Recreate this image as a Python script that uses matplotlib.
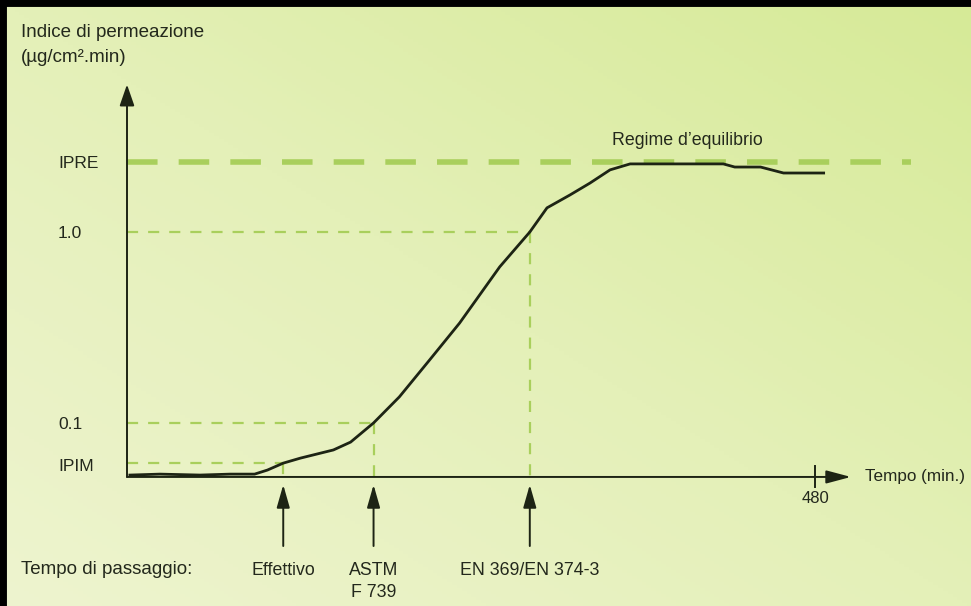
import numpy as np
import matplotlib
matplotlib.use("Agg")
import matplotlib.pyplot as plt
from matplotlib.colors import LinearSegmentedColormap

plt.rcParams['font.family'] = ['Liberation Sans', 'DejaVu Sans']

# Permeation curve (time in minutes, permeation index on a schematic scale)
time_min = [2, 23, 51, 72, 89, 98, 109, 121, 144, 156, 172, 190, 211, 232,
            260, 281, 293, 309, 323, 337, 351, 386, 416, 424, 442, 458, 486]
perm_index = [0.3, 0.6, 0.3, 0.6, 0.6, 1.9, 4.1, 5.7, 8.3, 10.8, 16.9, 25.2,
              36.9, 48.7, 66.6, 77.7, 85.4, 89.5, 93.3, 97.5, 99.4, 99.4,
              99.4, 98.4, 98.4, 96.5, 96.5]

# Reference levels on the index axis
level_labels = ["IPIM", "0.1", "1.0", "IPRE"]
level_values = [4.1, 16.9, 77.7, 100.0]

# Breakthrough times where the curve crosses each threshold
bt_labels = ["Effettivo", "ASTM\nF 739", "EN 369/EN 374-3"]
bt_times = [109, 172, 281]
bt_levels = [4.1, 16.9, 77.7]

x_tick = 480

dash_green = "#a9cf5c"
ink = "#1d2414"
text_col = "#23281c"

fig = plt.figure(figsize=(9.71, 6.06), dpi=100)
ax = fig.add_axes([0, 0, 1, 1])
xmin, xmax = -88.6, 588.8
ymin, ymax = -41.4, 151.6
ax.set_xlim(xmin, xmax)
ax.set_ylim(ymin, ymax)
ax.axis("off")

# paper background: greener at the top right, paler at the bottom left
cmap = LinearSegmentedColormap.from_list("paper", ["#eef4cf", "#e4f0b8", "#d6ea97"])
gx, gy = np.meshgrid(np.linspace(0, 1, 200), np.linspace(0, 1, 200))
grad = 0.5 * gx + 0.5 * gy
ax.imshow(grad, extent=[xmin, xmax, ymin, ymax], origin="lower", cmap=cmap,
          aspect="auto", zorder=0)

# black frame along the top and left edges
ax.plot([xmin, xmin, xmax], [ymin, ymax, ymax], color="black", lw=10,
        solid_capstyle="butt", zorder=10)

# axes with arrowheads
ax.annotate("", xy=(0, 124.7), xytext=(0, -0.3),
            arrowprops=dict(arrowstyle="-|>,head_length=1.3,head_width=0.45",
                            color=ink, lw=1.4, shrinkA=0, shrinkB=0), zorder=5)
ax.annotate("", xy=(505, -0.3), xytext=(0, -0.3),
            arrowprops=dict(arrowstyle="-|>,head_length=1.5,head_width=0.4",
                            color=ink, lw=1.4, shrinkA=0, shrinkB=0), zorder=5)
ax.plot([x_tick, x_tick], [-3.5, 3.2], color=ink, lw=1.4, zorder=5)
ax.text(x_tick, -4.8, str(x_tick), ha="center", va="top", fontsize=12, color=text_col)
ax.text(515, -0.3, "Tempo (min.)", ha="left", va="center", fontsize=12.3, color=text_col)

# equilibrium level
ax.plot([0, 547], [100, 100], color=dash_green, lw=4, dashes=(5.5, 3.8),
        zorder=2)

# threshold guides
for t, lv in zip(bt_times, bt_levels):
    ax.plot([0, t], [lv, lv], color=dash_green, lw=1.6, dashes=(5, 4.5), zorder=2)
    ax.plot([t, t], [lv, -0.3], color=dash_green, lw=1.6, dashes=(5, 4.5), zorder=2)

# permeation curve
ax.plot(time_min, perm_index, color=ink, lw=2.0, zorder=4)

# level labels
for lab, lv in zip(level_labels, level_values):
    off = -1.2 if lab == "IPIM" else -0.6
    ax.text(-48.1, lv + off, lab, ha="left", va="center", fontsize=12.5, color=text_col)

ax.text(391, 107, "Regime d\u2019equilibrio", ha="center", va="center",
        fontsize=12.8, color=text_col)

ax.text(-74.2, 141.3, "Indice di permeazione", ha="left", va="center",
        fontsize=13.5, color=text_col)
ax.text(-74.2, 133.3, "(\u00b5g/cm\u00b2.min)", ha="left", va="center",
        fontsize=13.5, color=text_col)

# breakthrough arrows and labels
for lab, t in zip(bt_labels, bt_times):
    ax.annotate("", xy=(t, -2.8), xytext=(t, -22.3),
                arrowprops=dict(arrowstyle="-|>,head_length=1.4,head_width=0.4",
                                color=ink, lw=1.4, shrinkA=0, shrinkB=0), zorder=5)
    ax.text(t, -27.3, lab, ha="center", va="top", fontsize=12.8, color=text_col,
            linespacing=1.4)

ax.text(-74.2, -29.9, "Tempo di passaggio:", ha="left", va="center",
        fontsize=13.5, color=text_col)

fig.savefig("out.png", dpi=100)
